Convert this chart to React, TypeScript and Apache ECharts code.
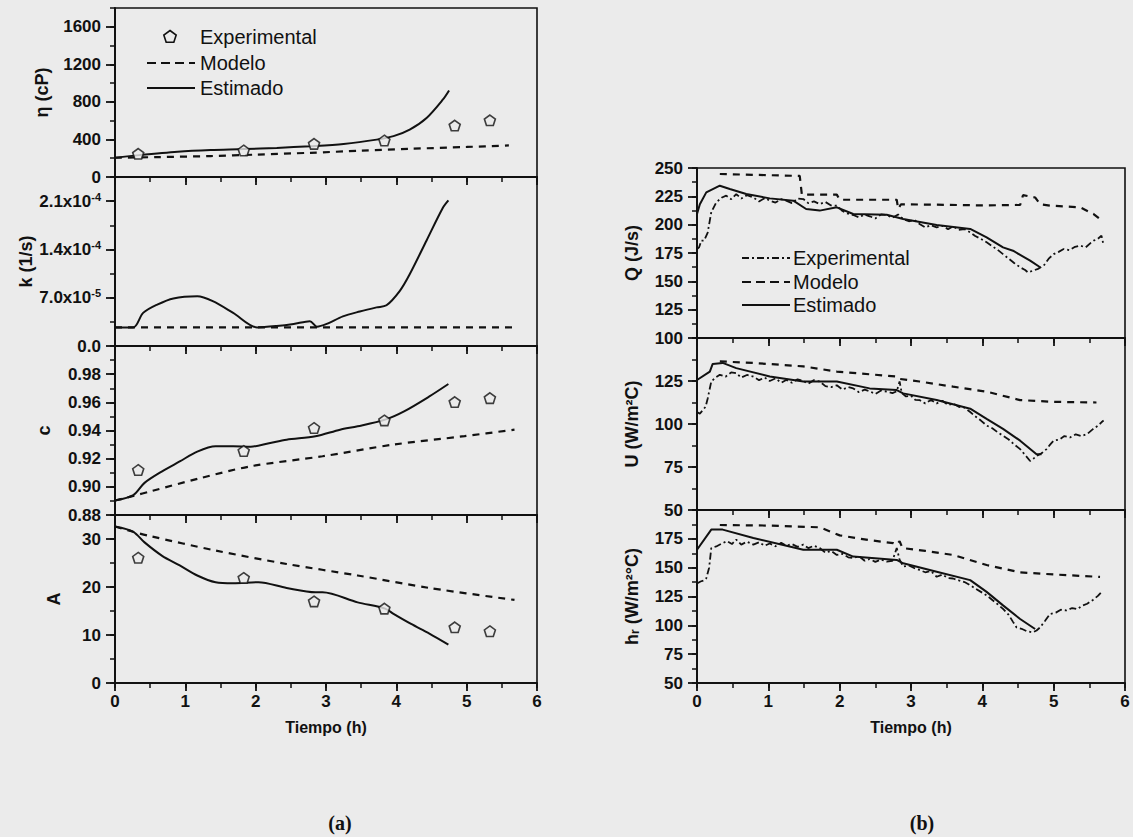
import React, { useEffect, useRef } from "react";
import * as echarts from "echarts";

// ---------- DATA (left panel a) ----------
const expTime = [0.33, 1.83, 2.83, 3.83, 4.83, 5.33];
const etaExp = [247, 283, 353, 389, 548, 604];
const cExp = [0.912, 0.9255, 0.9418, 0.9472, 0.9602, 0.963];
const aExp = [26.1, 21.9, 17.0, 15.5, 11.6, 10.8];

const etaModelo = [[0, 205], [0.6, 212], [1.36, 223], [2.0, 238], [2.78, 258], [3.5, 280], [4.19, 300], [5.0, 320], [5.6, 336]];
const etaEstimado = [[0, 205], [0.34, 233], [0.89, 270], [1.36, 288], [1.83, 297], [2.3, 310], [2.78, 328], [3.25, 352], [3.72, 398], [3.96, 435], [4.19, 505], [4.43, 629], [4.66, 823], [4.75, 922]];

const kModelo = [[0, 2.7e-5], [5.65, 2.7e-5]];
const kEstimado = [[0, 2.7e-5], [0.26, 2.7e-5], [0.4, 4.8e-5], [0.6, 6.0e-5], [0.83, 6.9e-5], [1.17, 7.2e-5], [1.39, 6.5e-5], [1.68, 4.8e-5], [2.02, 2.7e-5], [2.3, 2.9e-5], [2.54, 3.2e-5], [2.77, 3.6e-5], [2.87, 2.8e-5], [3.01, 3.2e-5], [3.24, 4.3e-5], [3.48, 5.0e-5], [3.72, 5.6e-5], [3.86, 5.9e-5], [4.05, 8.0e-5], [4.19, 1.04e-4], [4.43, 1.53e-4], [4.66, 2.0e-4], [4.74, 2.11e-4]];

const cModelo = [[0, 0.8903], [0.26, 0.8935], [0.52, 0.897], [1.2, 0.906], [1.93, 0.9146], [2.95, 0.9217], [3.96, 0.93], [4.97, 0.936], [5.68, 0.9406]];
const cEstimado = [[0, 0.8903], [0.26, 0.8941], [0.42, 0.9028], [0.67, 0.911], [0.92, 0.918], [1.17, 0.925], [1.43, 0.9288], [1.68, 0.9288], [1.93, 0.9285], [2.19, 0.931], [2.44, 0.9335], [2.85, 0.9359], [3.2, 0.9406], [3.45, 0.943], [3.84, 0.9477], [4.11, 0.9536], [4.47, 0.9642], [4.74, 0.973]];

const aModelo = [[0, 32.6], [0.26, 31.5], [0.5, 30.6], [1.43, 27.6], [2.44, 24.8], [3.45, 22.4], [4.47, 19.8], [5.68, 17.3]];
const aEstimado = [[0, 32.6], [0.26, 31.5], [0.42, 29.3], [0.67, 26.5], [0.92, 24.5], [1.17, 22.4], [1.43, 21.0], [1.68, 20.8], [2.04, 21.0], [2.44, 19.8], [2.85, 18.9], [2.95, 18.9], [3.45, 16.8], [3.84, 15.5], [3.96, 14.4], [4.21, 12.3], [4.47, 10.3], [4.74, 8.0]];

// ---------- DATA (right panel b) ----------
const qExp = [[0, 178.5], [0.03, 180], [0.06, 185.9], [0.1, 186], [0.15, 193], [0.2, 211], [0.27, 219.7], [0.35, 224], [0.41, 225.6], [0.48, 222.5], [0.55, 227], [0.62, 223], [0.7, 226], [0.79, 224], [0.87, 220.5], [0.95, 223.5], [1.02, 221.2], [1.1, 219.5], [1.18, 222.5], [1.25, 221.2], [1.33, 219], [1.41, 223], [1.49, 222.6], [1.56, 219], [1.64, 220.5], [1.72, 218.2], [1.8, 220], [1.88, 217], [1.96, 216.8], [2.04, 212], [2.1, 210], [2.19, 208.5], [2.27, 206.5], [2.35, 209], [2.42, 207.4], [2.5, 205.5], [2.58, 209], [2.66, 208.5], [2.74, 206], [2.82, 209], [2.89, 205], [2.97, 203], [3.05, 204], [3.12, 200.6], [3.2, 197.5], [3.28, 199.5], [3.36, 197.6], [3.44, 199], [3.52, 196], [3.59, 198.5], [3.67, 195.5], [3.75, 196], [3.83, 193.2], [3.9, 190], [3.98, 187.5], [4.06, 184.4], [4.14, 181], [4.22, 177.5], [4.29, 174], [4.37, 170], [4.45, 166], [4.53, 162.4], [4.6, 160], [4.64, 157.9], [4.71, 159.4], [4.78, 161], [4.86, 163.8], [4.93, 170], [5.0, 174], [5.07, 176], [5.14, 178.5], [5.22, 177.5], [5.3, 180.5], [5.37, 181.5], [5.45, 180], [5.52, 184], [5.56, 185.9], [5.62, 187.5], [5.67, 190.3], [5.7, 182]];
const qModelo = [[0.32, 244.7], [1.44, 243], [1.47, 226.5], [1.96, 226.5], [2.0, 222], [2.8, 222], [2.82, 214], [2.86, 218], [3.5, 217.5], [4.0, 217], [4.53, 217.4], [4.57, 226], [4.74, 224], [4.81, 218], [4.95, 216.8], [5.37, 215.3], [5.56, 209.4], [5.65, 205]];
const qEstimado = [[0, 209.4], [0.04, 218], [0.13, 228.5], [0.32, 234.4], [0.46, 231.5], [0.69, 227], [1.02, 223.2], [1.35, 221.2], [1.53, 213.8], [1.72, 212.4], [1.96, 215.3], [2.19, 209.4], [2.66, 208.8], [2.89, 205], [3.36, 199.7], [3.83, 196.2], [4.06, 188.8], [4.29, 180], [4.43, 177], [4.67, 168.2], [4.81, 162.4]];

const uExp = [[0, 107], [0.04, 106], [0.08, 108], [0.12, 110], [0.15, 114.8], [0.2, 124.7], [0.26, 127], [0.32, 128.6], [0.4, 127.5], [0.48, 130], [0.55, 129.6], [0.62, 127], [0.7, 128.5], [0.79, 127.6], [0.87, 125.5], [0.95, 127], [1.02, 125], [1.1, 126.5], [1.18, 124], [1.25, 125.6], [1.33, 124], [1.41, 126], [1.49, 125], [1.56, 123.5], [1.64, 125.5], [1.72, 124.7], [1.8, 122], [1.88, 121.5], [1.96, 122.5], [2.04, 120], [2.12, 121.5], [2.19, 120.7], [2.27, 118.5], [2.35, 120], [2.42, 119], [2.5, 117.5], [2.58, 119.5], [2.66, 118.8], [2.74, 118], [2.8, 119], [2.84, 124.7], [2.87, 118], [2.93, 116], [3.0, 116.5], [3.06, 114], [3.12, 113.9], [3.2, 112], [3.28, 114], [3.36, 112], [3.44, 113.5], [3.52, 111], [3.59, 111.9], [3.67, 110], [3.75, 109.5], [3.83, 107], [3.9, 104.5], [3.98, 102], [4.06, 99.1], [4.14, 97.5], [4.22, 95], [4.29, 93.2], [4.37, 91], [4.45, 88], [4.53, 85.4], [4.6, 82], [4.67, 78.5], [4.72, 80], [4.76, 81.4], [4.83, 83], [4.9, 85.4], [4.95, 88], [5.0, 90.3], [5.08, 91], [5.15, 93], [5.23, 92.2], [5.31, 94], [5.39, 93], [5.47, 94.2], [5.55, 97], [5.62, 99], [5.67, 101], [5.7, 102]];
const uModelo = [[0.32, 136.4], [0.79, 135.5], [1.49, 133.5], [1.96, 130.5], [2.8, 127.6], [2.84, 126.2], [3.12, 124.7], [3.59, 121.7], [4.06, 118.8], [4.53, 113.9], [5.0, 112.9], [5.6, 112.5]];
const uEstimado = [[0, 125.6], [0.18, 130.5], [0.22, 134.9], [0.36, 135.5], [0.55, 132.5], [1.02, 127.6], [1.49, 124.7], [1.96, 124.7], [2.42, 120.7], [2.8, 119.7], [2.89, 117.8], [3.36, 113.9], [3.83, 108.9], [4.06, 103], [4.29, 97.2], [4.53, 90.3], [4.76, 82.4], [4.83, 82.4]];

const hExp = [[0, 136.3], [0.05, 138], [0.1, 139], [0.13, 140.7], [0.17, 150], [0.2, 167], [0.27, 168.4], [0.35, 171], [0.42, 173], [0.49, 170.5], [0.55, 174.3], [0.62, 170], [0.7, 172.5], [0.79, 170], [0.87, 172], [0.95, 169], [1.02, 171], [1.1, 168.5], [1.18, 171.5], [1.25, 169], [1.33, 170.5], [1.41, 168], [1.49, 170], [1.56, 167], [1.64, 169], [1.72, 167], [1.8, 163], [1.88, 164.5], [1.96, 161], [2.04, 162], [2.12, 159], [2.19, 158.3], [2.27, 160], [2.35, 156], [2.42, 157.5], [2.5, 155], [2.58, 157], [2.66, 155.3], [2.74, 156], [2.8, 167], [2.84, 157], [2.89, 150.9], [2.97, 152], [3.05, 149.5], [3.12, 148], [3.2, 146], [3.28, 147], [3.36, 142.1], [3.44, 144], [3.52, 141], [3.59, 140.6], [3.67, 139], [3.75, 137.5], [3.83, 134.8], [3.9, 132], [3.98, 129], [4.06, 126], [4.14, 122], [4.22, 118], [4.29, 114.3], [4.37, 109], [4.43, 103], [4.48, 98.2], [4.55, 97], [4.62, 95], [4.71, 93.9], [4.76, 95.5], [4.81, 98.2], [4.88, 104], [4.95, 109.9], [5.03, 111], [5.1, 113.5], [5.18, 112.9], [5.26, 115], [5.33, 114], [5.4, 117], [5.47, 118.7], [5.55, 122], [5.62, 125.5], [5.67, 128.9]];
const hModelo = [[0.32, 187], [1.0, 186.5], [1.72, 185], [2.0, 178], [2.4, 174], [2.75, 171.3], [2.8, 170], [2.84, 173], [2.88, 167], [3.2, 164.5], [3.59, 161], [4.06, 152.3], [4.53, 145.9], [5.0, 144.1], [5.65, 142]];
const hEstimado = [[0, 165.5], [0.2, 183], [0.36, 183], [0.79, 175.7], [1.49, 165.5], [1.96, 165.5], [2.19, 159.6], [2.8, 156.7], [2.89, 153.8], [3.36, 146.5], [3.83, 139.2], [4.06, 129], [4.29, 117.3], [4.53, 105.5], [4.74, 96.8]];

const xTicks = [0, 1, 2, 3, 4, 5, 6];
const legendNames = ["Experimental", "Modelo", "Estimado"];

// y-axis definitions: [min, max, major interval]
const yRanges = [
  [0, 1800, 400],
  [0, 2.45e-4, 7e-5],
  [0.88, 1.0, 0.02],
  [0, 35, 10],
  [100, 250, 25],
  [50, 150, 25],
  [50, 200, 25],
];

// ---------- STYLE ----------
const BG = "#ebebeb";
const INK = "#111111";
const FONT = "'Liberation Sans', Arial, sans-serif";
const PENTAGON = "path://M0,-10L9.51,-3.09L5.88,8.09L-5.88,8.09L-9.51,-3.09Z";

const gridBoxes = [
  { left: 115, top: 8, width: 422, height: 169 },
  { left: 115, top: 177, width: 422, height: 169 },
  { left: 115, top: 346, width: 422, height: 169 },
  { left: 115, top: 515, width: 422, height: 168 },
  { left: 697, top: 168, width: 428, height: 170 },
  { left: 697, top: 338, width: 428, height: 172 },
  { left: 697, top: 510, width: 428, height: 173 },
];

function kLabel(v: number) {
  if (Math.abs(v) < 1e-12) return "{m|0.0}";
  const e = Math.floor(Math.log10(v) + 1e-9);
  const m = v / Math.pow(10, e);
  return "{m|" + m.toFixed(1) + "x10}{e|" + e + "}";
}

function App() {
  const ref = useRef<HTMLDivElement>(null);
  useEffect(() => {
    if (!ref.current) return;
    const chart = echarts.init(ref.current, null, { renderer: "svg" });
    const grids = gridBoxes.map((g) => ({
      ...g,
      show: true,
      borderColor: INK,
      borderWidth: 1.6,
      backgroundColor: "transparent",
      containLabel: false,
      outerBoundsMode: "none",
    }));

    const labelStyle = { fontSize: 17, fontWeight: "bold", color: INK, fontFamily: FONT };
    const nameStyle = { fontSize: 18, fontWeight: "bold", color: INK, fontFamily: FONT };
    const bottoms = [3, 6];
    const lineSt = { show: true, onZero: false, lineStyle: { color: INK, width: 1.6 } };
    const majorTick = (len: number) => ({ show: true, inside: false, length: len, lineStyle: { color: INK, width: 1.8 } });
    const minorTickSt = { show: true, inside: false, length: 5, lineStyle: { color: INK, width: 1.5 } };

    // main x axes (indices 0..6)
    const xMain = gridBoxes.map((_, gi) => {
      const bottom = bottoms.includes(gi);
      return {
        gridIndex: gi,
        type: "value",
        position: "bottom",
        min: xTicks[0],
        max: xTicks[xTicks.length - 1],
        interval: 1,
        axisLine: lineSt,
        axisTick: majorTick(8),
        splitLine: { show: false },
        axisLabel: { show: bottom, margin: 10, ...labelStyle },
        name: bottom ? "Tiempo (h)" : "",
        nameLocation: "middle",
        nameGap: 36,
        nameTextStyle: { fontSize: 16, fontWeight: "bold", color: INK, fontFamily: FONT },
      };
    });
    // minor-tick x axes (indices 7..13)
    const xMinor = gridBoxes.map((_, gi) => ({
      gridIndex: gi,
      type: "value",
      min: xTicks[0],
      max: xTicks[xTicks.length - 1],
      interval: 0.5,
      position: "bottom",
      axisLine: lineSt,
      axisTick: minorTickSt,
      splitLine: { show: false },
      axisLabel: { show: false },
    }));

    const kRich = {
      m: { fontSize: 17, fontWeight: "bold", color: INK, fontFamily: FONT, lineHeight: 20 },
      e: { fontSize: 11, fontWeight: "bold", color: INK, fontFamily: FONT, verticalAlign: "top" },
    };
    const yOpts: any[] = [
      { showMax: false, name: "η (cP)", nameGap: 64, formatter: (v: number) => String(v) },
      { showMax: false, name: "k (1/s)", nameGap: 80, formatter: kLabel, rich: kRich },
      { showMax: false, name: "c", nameGap: 62, formatter: (v: number) => v.toFixed(2) },
      { showMax: false, name: "A", nameGap: 52, formatter: (v: number) => String(v) },
      { name: "Q (J/s)", nameGap: 56, formatter: (v: number) => String(v) },
      { showMax: false, name: "U (W/m²C)", nameGap: 56, formatter: (v: number) => String(v) },
      {
        showMax: false, nameGap: 56, formatter: (v: number) => String(v),
        name: "{a|h}{s|r}{a| (W/m²°C)}",
        nameRich: {
          a: { fontSize: 18, fontWeight: "bold", color: INK, fontFamily: FONT },
          s: { fontSize: 12, fontWeight: "bold", color: INK, fontFamily: FONT, verticalAlign: "bottom" },
        },
      },
    ];
    const yMain = gridBoxes.map((_, gi) => {
      const o = yOpts[gi];
      const [mn, mx, iv] = yRanges[gi];
      return {
        gridIndex: gi,
        type: "value",
        position: "left",
        min: mn,
        max: mx,
        interval: iv,
        axisLine: lineSt,
        axisTick: majorTick(9),
        splitLine: { show: false },
        axisLabel: {
          margin: 14,
          showMaxLabel: o.showMax !== false,
          formatter: o.formatter,
          ...labelStyle,
          rich: o.rich,
        },
        name: o.name,
        nameLocation: "middle",
        nameRotate: 90,
        nameGap: o.nameGap,
        nameTextStyle: { ...nameStyle, rich: o.nameRich },
      };
    });
    const yMinor = gridBoxes.map((_, gi) => {
      const [mn, mx, iv] = yRanges[gi];
      return {
        gridIndex: gi,
        type: "value",
        min: mn,
        max: mx,
        interval: iv / 2,
        position: "left",
        axisLine: lineSt,
        axisTick: minorTickSt,
        splitLine: { show: false },
        axisLabel: { show: false },
      };
    });

    const solid = (i: number, data: number[][], smooth: any = 0.3) => ({
      type: "line", xAxisIndex: i, yAxisIndex: i, data, smooth,
      showSymbol: false, symbol: "none",
      lineStyle: { color: INK, width: 2, type: "solid" },
    });
    const dashed = (i: number, data: number[][], smooth: any = 0.3) => ({
      type: "line", xAxisIndex: i, yAxisIndex: i, data, smooth,
      showSymbol: false, symbol: "none",
      lineStyle: { color: INK, width: 2.2, type: [7, 6] },
    });
    const dashDot = (i: number, data: number[][]) => ({
      type: "line", xAxisIndex: i, yAxisIndex: i, data, smooth: false,
      showSymbol: false, symbol: "none",
      lineStyle: { color: INK, width: 1.8, type: [7, 3, 2, 3] },
    });
    const pent = (i: number, ys: number[]) => ({
      type: "scatter", xAxisIndex: i, yAxisIndex: i,
      data: expTime.map((t, j) => [t, ys[j]]),
      symbol: PENTAGON, symbolSize: [11, 10.5],
      itemStyle: { color: BG, borderColor: INK, borderWidth: 1.6 },
      z: 5,
    });
    // invisible carriers so every minor-tick axis is in use
    const carrier = (i: number) => ({
      type: "line", xAxisIndex: 7 + i, yAxisIndex: 7 + i,
      data: [] as number[][], showSymbol: false, symbol: "none",
      lineStyle: { opacity: 0 },
    });

    const series: any[] = [
      pent(0, etaExp), dashed(0, etaModelo), solid(0, etaEstimado),
      dashed(1, kModelo, false), solid(1, kEstimado, 0.3),
      pent(2, cExp), dashed(2, cModelo), solid(2, cEstimado),
      pent(3, aExp), dashed(3, aModelo), solid(3, aEstimado),
      dashDot(4, qExp), dashed(4, qModelo, false), solid(4, qEstimado, false),
      dashDot(5, uExp), dashed(5, uModelo, false), solid(5, uEstimado, false),
      dashDot(6, hExp), dashed(6, hModelo, false), solid(6, hEstimado, false),
      ...gridBoxes.map((_, i) => carrier(i)),
    ];

    const legendFont = "20px 'Liberation Sans', Arial, sans-serif";
    const pentPts = [0, 1, 2, 3, 4].map((j) => {
      const ang = -Math.PI / 2 + (j * 2 * Math.PI) / 5;
      return [170 + 6.5 * Math.cos(ang), 37 + 6.5 * Math.sin(ang)];
    });
    const txt = (x: number, y: number, text: string, font = legendFont) => ({
      type: "text",
      style: { x, y, text, font, fill: INK, align: "left", verticalAlign: "middle" },
    });
    const ln = (x1: number, x2: number, y: number, dash: any) => ({
      type: "line",
      shape: { x1, y1: y, x2, y2: y },
      style: { stroke: INK, lineWidth: 2, lineDash: dash },
    });

    const graphic = [
      { type: "polygon", shape: { points: pentPts }, style: { fill: BG, stroke: INK, lineWidth: 1.6 } },
      txt(200, 37, legendNames[0]),
      ln(147, 195, 63, [9, 5]),
      txt(200, 63, legendNames[1]),
      ln(147, 195, 88, null),
      txt(200, 88, legendNames[2]),
      ln(742, 790, 258, [7, 3, 2, 3]),
      txt(793, 258, legendNames[0]),
      ln(742, 790, 282, [9, 5]),
      txt(793, 282, legendNames[1]),
      ln(742, 790, 305, null),
      txt(793, 305, legendNames[2]),
      {
        type: "text",
        style: { x: 340, y: 823, text: "(a)", font: "bold 20px 'Liberation Serif', serif", fill: INK, align: "center", verticalAlign: "middle" },
      },
      {
        type: "text",
        style: { x: 922, y: 823, text: "(b)", font: "bold 20px 'Liberation Serif', serif", fill: INK, align: "center", verticalAlign: "middle" },
      },
    ];

    chart.setOption({
      animation: false,
      backgroundColor: BG,
      textStyle: { fontFamily: FONT },
      grid: grids,
      xAxis: [...xMain, ...xMinor],
      yAxis: [...yMain, ...yMinor],
      series,
      graphic,
    });
    return () => chart.dispose();
  }, []);
  return (
    <div
      ref={ref}
      style={{ position: "absolute", left: 0, top: 0, width: 1133, height: 837, background: BG }}
    />
  );
}

export default App;
